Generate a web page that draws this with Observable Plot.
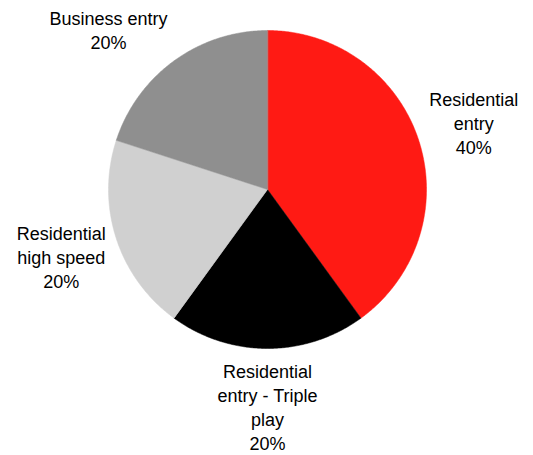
<!DOCTYPE html>
<html>
<head>
<meta charset="utf-8">
<script src="https://cdn.jsdelivr.net/npm/d3@7"></script>
<script src="https://cdn.jsdelivr.net/npm/@observablehq/plot@0.6"></script>
<style>
  html, body { margin: 0; padding: 0; background: #fff; }
  #chart { width: 533px; height: 455px; }
</style>
</head>
<body>
<div id="chart"></div>
<script>
// Data (clockwise from 12 o'clock)
const categories = ["Residential entry", "Residential entry - Triple play", "Residential high speed", "Business entry"];
const displayNames = ["Residential\nentry", "Residential\nentry - Triple\nplay", "Residential\nhigh speed", "Business entry"];
const shares = [40, 20, 20, 20];
const colors = ["#ff1a14", "#000000", "#d0d0d0", "#8f8f8f"];

const W = 533, H = 455;
const R = 159;            // pie radius in px
const CX = 267, CY = 189; // pie center in px
const FONT = 18, LH = 24;
const FAMILY = "'Liberation Sans', Arial, sans-serif";

const ctx = document.createElement("canvas").getContext("2d");
ctx.font = `${FONT}px ${FAMILY}`;
const textWidth = s => ctx.measureText(s).width;

const data = categories.map((c, i) => ({category: c, name: displayNames[i], share: shares[i]}));
const arcs = d3.pie().sort(null).value(d => d.share)(data);

// polygon points for each slice (unit radius, y downward)
const polyPts = [];
arcs.forEach(a => {
  const n = Math.max(2, Math.ceil((a.endAngle - a.startAngle) / (Math.PI / 360)));
  polyPts.push({category: a.data.category, x: 0, y: 0});
  for (let k = 0; k <= n; k++) {
    const t = a.startAngle + (a.endAngle - a.startAngle) * k / n;
    polyPts.push({category: a.data.category, x: Math.sin(t), y: -Math.cos(t)});
  }
});

const labelMarks = arcs.map(a => {
  const m = (a.startAngle + a.endAngle) / 2;
  const s = Math.sin(m), c = -Math.cos(m);
  const mx = Math.max(Math.abs(s), Math.abs(c));
  const text = a.data.name + "\n" + a.data.share + "%";
  const lines = text.split("\n");
  const w = Math.max(...lines.map(textWidth));
  const dx = s > 0.5 ? w / 2 : s < -0.5 ? -w / 2 : 0;
  const dy = (lines.length * LH / 2) * (c / mx) * (Math.abs(c) < 0.5 ? 1.25 : 1);
  return Plot.text([{x: 1.07 * s, y: 1.06 * c, text}], {
    x: "x", y: "y", text: "text",
    textAnchor: "middle", lineAnchor: "middle", dx, dy,
    lineHeight: LH / FONT, fill: "#000", fontSize: FONT
  });
});

const chart = Plot.plot({
  width: W, height: H,
  margin: 0,
  style: {fontFamily: FAMILY, background: "#fff"},
  x: {domain: [-CX / R, (W - CX) / R], range: [0, W], axis: null},
  y: {domain: [-CY / R, (H - CY) / R], range: [0, H], axis: null},
  color: {domain: categories, range: colors},
  marks: [
    Plot.line(polyPts, {x: "x", y: "y", z: "category", fill: "category", stroke: "category", strokeWidth: 0.5, curve: "linear-closed"}),
    ...labelMarks
  ]
});
document.getElementById("chart").append(chart);
</script>
</body>
</html>
